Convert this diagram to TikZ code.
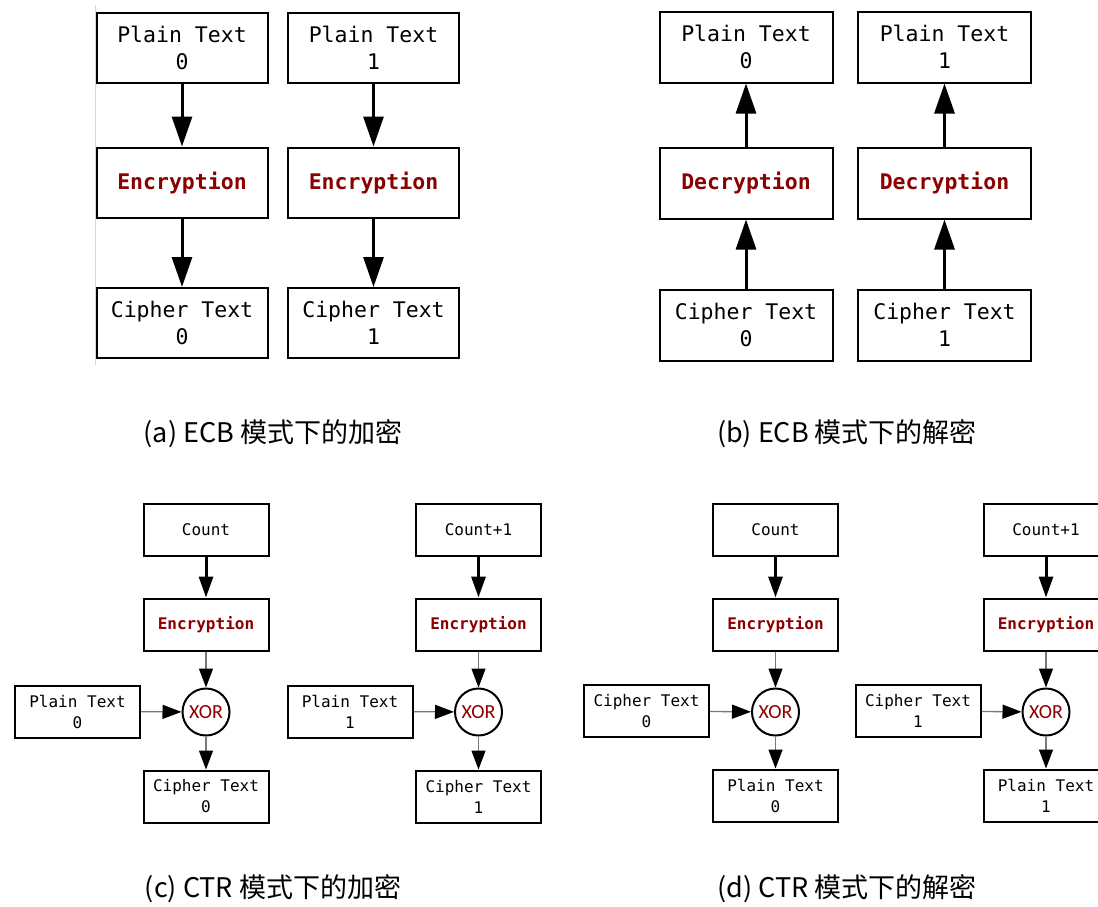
\documentclass[tikz,border=0pt]{standalone}
\usepackage{fontspec}
\newfontfamily\monof{DejaVu Sans Mono}
\newfontfamily\xorf{Carlito}
\newfontfamily\cjkf{Noto Sans CJK SC}
\usetikzlibrary{arrows.meta}
\definecolor{dred}{RGB}{139,0,0}
\definecolor{lgray}{RGB}{120,120,120}
\definecolor{edgegray}{RGB}{215,215,215}
\begin{document}
\begin{tikzpicture}[x=1pt,y=-1pt,
  bigbox/.style={draw, line width=2pt, minimum width=171pt, minimum height=70pt, inner sep=0pt, align=center,
    font=\monof\fontsize{21.5}{27}\selectfont},
  bigop/.style={bigbox, text=dred, font=\monof\bfseries\fontsize{21.5}{27}\selectfont},
  smallbox/.style={draw, line width=2pt, minimum width=125pt, minimum height=52pt, inner sep=0pt, align=center,
    font=\monof\fontsize{16}{21}\selectfont},
  smallop/.style={smallbox, text=dred, font=\monof\bfseries\fontsize{16}{21}\selectfont},
  xornode/.style={draw, circle, line width=2pt, minimum size=47pt, inner sep=0pt, text=dred,
    font=\xorf\fontsize{20}{22}\selectfont},
  bigarrow/.style={line width=3pt, -{Triangle[length=30pt,width=20pt]}},
  medarrow/.style={line width=3pt, -{Triangle[length=21pt,width=14pt]}},
  thinarrow/.style={draw=lgray, line width=1.3pt, -{Triangle[length=19pt,width=14pt,color=black]}},
  caption/.style={font=\cjkf\fontsize{27}{30}\selectfont, inner sep=0pt}
]
\useasboundingbox (0,0) rectangle (1098,906);

% faint edge line
\draw[edgegray, line width=1pt] (95,5) -- (95,365);

% ---------- (a) ECB encryption ----------
\node[bigbox] (ap0) at (182,47.5) {Plain Text\\0};
\node[bigop]  (ae0) at (182,182.5) {Encryption};
\node[bigbox] (ac0) at (182,323) {Cipher Text\\0};
\node[bigbox] (ap1) at (373.5,47.5) {Plain Text\\1};
\node[bigop]  (ae1) at (373.5,182.5) {Encryption};
\node[bigbox] (ac1) at (373.5,323) {Cipher Text\\1};
\draw[bigarrow] (ap0) -- (ae0);
\draw[bigarrow] (ae0) -- (ac0);
\draw[bigarrow] (ap1) -- (ae1);
\draw[bigarrow] (ae1) -- (ac1);
\node[caption] (capa) at (273,434) {(a) ECB 模式下的加密};

% ---------- (b) ECB decryption ----------
\node[bigbox, minimum width=173pt, minimum height=71pt] (bp0) at (746,47) {Plain Text\\0};
\node[bigop,  minimum width=173pt, minimum height=71pt] (bd0) at (746,183) {Decryption};
\node[bigbox, minimum width=173pt, minimum height=71pt] (bc0) at (746,325) {Cipher Text\\0};
\node[bigbox, minimum width=173pt, minimum height=71pt] (bp1) at (944.5,47) {Plain Text\\1};
\node[bigop,  minimum width=173pt, minimum height=71pt] (bd1) at (944.5,183) {Decryption};
\node[bigbox, minimum width=173pt, minimum height=71pt] (bc1) at (944.5,325) {Cipher Text\\1};
\draw[bigarrow] (bc0) -- (bd0);
\draw[bigarrow] (bd0) -- (bp0);
\draw[bigarrow] (bc1) -- (bd1);
\draw[bigarrow] (bd1) -- (bp1);
\node[caption] (capb) at (847,434) {(b) ECB 模式下的解密};

% ---------- (c) CTR encryption ----------
\node[smallbox] (ccnt0) at (206,529.5) {Count};
\node[smallop]  (cenc0) at (206,624.5) {Encryption};
\node[xornode]  (cx0)   at (206,712) {XOR};
\node[smallbox] (cpt0)  at (77.5,711.5) {Plain Text\\0};
\node[smallbox] (cct0)  at (206,796.5) {Cipher Text\\0};
\draw[medarrow] (ccnt0) -- (cenc0);
\draw[thinarrow] (cenc0) -- (cx0);
\draw[thinarrow] (cpt0) -- (cx0);
\draw[thinarrow] (cx0) -- (cct0);

\node[smallbox] (ccnt1) at (478.5,529.5) {Count+1};
\node[smallop]  (cenc1) at (478.5,624.5) {Encryption};
\node[xornode]  (cx1)   at (478.5,712) {XOR};
\node[smallbox] (cpt1)  at (350,711.5) {Plain Text\\1};
\node[smallbox] (cct1)  at (478.5,796.5) {Cipher Text\\1};
\draw[medarrow] (ccnt1) -- (cenc1);
\draw[thinarrow] (cenc1) -- (cx1);
\draw[thinarrow] (cpt1) -- (cx1);
\draw[thinarrow] (cx1) -- (cct1);
\node[caption] (capc) at (273,889) {(c) CTR 模式下的加密};

% ---------- (d) CTR decryption ----------
\node[smallbox] (dcnt0) at (775.5,529.5) {Count};
\node[smallop]  (denc0) at (775.5,624.5) {Encryption};
\node[xornode]  (dx0)   at (775.5,712) {XOR};
\node[smallbox] (dct0)  at (646.5,711) {Cipher Text\\0};
\node[smallbox] (dpt0)  at (775.5,795.5) {Plain Text\\0};
\draw[medarrow] (dcnt0) -- (denc0);
\draw[thinarrow] (denc0) -- (dx0);
\draw[thinarrow] (dct0) -- (dx0);
\draw[thinarrow] (dx0) -- (dpt0);

\node[smallbox] (dcnt1) at (1046,529.5) {Count+1};
\node[smallop]  (denc1) at (1046,624.5) {Encryption};
\node[xornode]  (dx1)   at (1046,712) {XOR};
\node[smallbox] (dct1)  at (918,711) {Cipher Text\\1};
\node[smallbox] (dpt1)  at (1046,795.5) {Plain Text\\1};
\draw[medarrow] (dcnt1) -- (denc1);
\draw[thinarrow] (denc1) -- (dx1);
\draw[thinarrow] (dct1) -- (dx1);
\draw[thinarrow] (dx1) -- (dpt1);
\node[caption] (capd) at (847,889) {(d) CTR 模式下的解密};
\end{tikzpicture}
\end{document}
